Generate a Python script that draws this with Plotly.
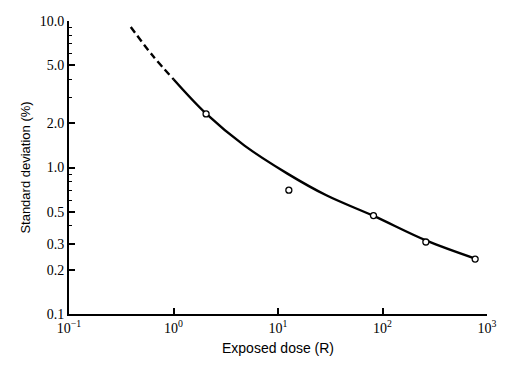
import plotly.graph_objects as go

# measured points (open circles)
dose_pts = [2.05, 12.7, 82, 260, 770]
sd_pts = [2.32, 0.70, 0.47, 0.31, 0.237]

# fitted curve
dash_x = [0.39, 0.62, 1.0]
dash_y = [9.1, 5.9, 4.0]
curve_x = [1.0, 2.05, 4.78, 12.2, 29.0, 82.2, 260, 770]
curve_y = [4.0, 2.33, 1.41, 0.912, 0.646, 0.467, 0.318, 0.239]

y_ticks = [0.1, 0.2, 0.3, 0.5, 1.0, 2.0, 5.0, 10.0]
y_ticktext = ["0.1", "0.2", "0.3", "0.5", "1.0", "2.0", "5.0", "10.0"]
y_minor = [0.4, 0.6, 0.7, 0.8, 0.9, 3, 4, 6, 7, 8, 9]
x_ticks = [0.1, 1, 10, 100, 1000]
x_ticktext = ["10<sup>−1</sup>", "10<sup>0</sup>", "10<sup>1</sup>", "10<sup>2</sup>", "10<sup>3</sup>"]

fig = go.Figure()
fig.add_trace(go.Scatter(x=dash_x, y=dash_y, mode="lines", line=dict(color="black", width=2.4, dash="7px,4px"),
                         line_shape="spline", showlegend=False))
fig.add_trace(go.Scatter(x=curve_x, y=curve_y, mode="lines",
                         line=dict(color="black", width=2.4, shape="spline", smoothing=1.0),
                         showlegend=False))
fig.add_trace(go.Scatter(x=dose_pts, y=sd_pts, mode="markers",
                         marker=dict(symbol="circle", size=6, color="white", line=dict(color="black", width=1.3)),
                         showlegend=False))

fig.update_layout(
    width=509, height=369,
    margin=dict(l=69, r=16, t=21, b=55),
    paper_bgcolor="white", plot_bgcolor="white",
    font=dict(family="Liberation Serif", color="black", size=14),
)
fig.update_xaxes(
    type="log", range=[-1, 3], showgrid=False, zeroline=False,
    showline=True, linecolor="black", linewidth=2,
    tickmode="array", tickvals=x_ticks, ticktext=x_ticktext,
    ticks="inside", ticklen=6, tickwidth=1.5, tickcolor="black",
    tickfont=dict(family="Liberation Serif", size=14),
    title=dict(text="Exposed dose (R)", font=dict(family="Liberation Sans", size=14), standoff=8),
)
fig.update_yaxes(
    type="log", range=[-1, 1], showgrid=False, zeroline=False,
    showline=True, linecolor="black", linewidth=2,
    tickmode="array", tickvals=y_ticks, ticktext=y_ticktext,
    ticks="inside", ticklen=6, tickwidth=1.5, tickcolor="black",
    minor=dict(tickmode="array", tickvals=y_minor, ticks="inside", ticklen=3, tickwidth=1, tickcolor="black", showgrid=False),
    tickfont=dict(family="Liberation Serif", size=14),
    title=dict(text="Standard deviation (%)", font=dict(family="Liberation Sans", size=13), standoff=6),
)
fig.write_html("out.html")
